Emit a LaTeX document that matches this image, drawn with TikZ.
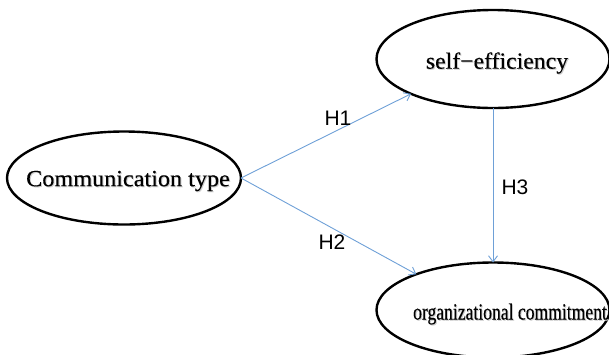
\documentclass[tikz,border=0pt]{standalone}
\usepackage{fontspec}
\setmainfont{Liberation Serif}[FakeBold=0.3]
\newfontfamily\hfont{Liberation Sans}
\usetikzlibrary{shapes.geometric,arrows.meta}
\definecolor{linkblue}{RGB}{110,160,215}
\definecolor{shade}{RGB}{205,205,205}
\begin{document}
\begin{tikzpicture}[x=1pt,y=-1pt,
  oval/.style={draw=black,line width=2.4pt,ellipse,inner sep=0pt,outer sep=0pt},
  etext/.style={font=\fontsize{22}{24}\selectfont,inner sep=0pt},
  eshadow/.style={etext,text=shade},
  link/.style={draw=linkblue,line width=0.9pt,-{Straight Barb[length=6pt,width=9pt]}},
  hlabel/.style={font=\hfont\fontsize{21}{23}\selectfont,inner sep=0pt}]
\useasboundingbox (0,0) rectangle (609,354);
\node[oval,minimum width=234pt,minimum height=93pt] (ct) at (124,178) {};
\node[oval,minimum width=233pt,minimum height=98pt] (se) at (493,59) {};
\node[oval,minimum width=233pt,minimum height=95pt] (oc) at (493,310) {};
\node[eshadow] (cts) at (129,182) {\scalebox{1.1}[1.05]{Communication type}};
\node[eshadow] (ses) at (498,64) {\scalebox{1.08}[1.05]{self−efficiency}};
\node[eshadow] (ocs) at (511,315) {\scalebox{0.8}[1.05]{organizational commitment}};
\node[etext] (ctt) at (128,181) {\scalebox{1.1}[1.05]{Communication type}};
\node[etext] (set) at (497,63) {\scalebox{1.08}[1.05]{self−efficiency}};
\node[etext] (oct) at (510,314) {\scalebox{0.8}[1.05]{organizational commitment}};
\draw[link] (ct.east) -- (se.203.4);
\draw[link] (ct.east) -- (oc.155.8);
\draw[link] (se.south) -- (oc.north);
\node[hlabel] (h1) at (338,118) {H1};
\node[hlabel] (h2) at (332,242) {H2};
\node[hlabel] (h3) at (515,187) {H3};
\end{tikzpicture}
\end{document}
